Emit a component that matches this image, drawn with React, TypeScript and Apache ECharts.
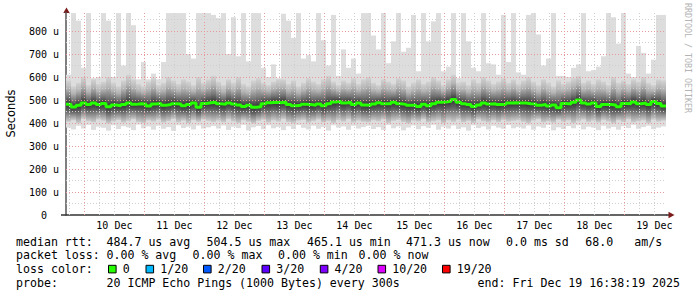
import React, { useEffect, useRef } from 'react';
import * as echarts from 'echarts';

// time axis: hours since 9 Dec 00:00
const START_H = 16 + 38 / 60 + 19 / 3600;
const STEP_H = 2;
const END_H = START_H + 240;

const DAY_LABELS = ['10 Dec', '11 Dec', '12 Dec', '13 Dec', '14 Dec', '15 Dec', '16 Dec', '17 Dec', '18 Dec', '19 Dec'];
const DAY_LABEL_HOURS = [36, 60, 84, 108, 132, 156, 180, 204, 228, 252];
const Y_TICKS = [0, 100, 200, 300, 400, 500, 600, 700, 800];
const Y_MAX = 880;

// median rtt (us), one value per 2h
const MEDIAN = [
  482, 470, 477, 487, 480, 487, 480, 485, 471, 478, 475, 480, 487, 481, 484, 483, 474, 483, 485, 477, 480, 484, 483, 475, 480, 487, 468, 485, 488, 490,
  484, 481, 487, 483, 478, 472, 477, 468, 471, 484, 488, 490, 488, 491, 480, 475, 477, 481, 480, 477, 483, 475, 484, 491, 494, 487, 490, 480, 487, 478,
  477, 483, 488, 484, 484, 490, 484, 481, 477, 477, 472, 481, 475, 484, 490, 491, 494, 502, 490, 484, 480, 472, 478, 487, 483, 484, 480, 481, 487, 488,
  487, 487, 484, 483, 477, 480, 474, 478, 466, 485, 483, 490, 500, 487, 483, 487, 472, 480, 480, 478, 471, 485, 484, 491, 484, 487, 480, 493, 485, 474,
];
// slowest ping (top of smoke)
const MAX_RTT = [
  610, 878, 845, 640, 878, 595, 600, 878, 845, 600, 878, 650, 878, 825, 590, 665, 590, 615, 590, 665, 878, 878, 878, 878, 700, 680, 878, 878, 878, 870,
  856, 878, 700, 860, 690, 878, 668, 878, 878, 640, 600, 655, 595, 875, 845, 770, 878, 680, 695, 668, 878, 760, 650, 870, 605, 720, 640, 680, 615, 878,
  878, 780, 720, 878, 660, 755, 878, 710, 727, 870, 625, 878, 755, 842, 878, 625, 645, 878, 595, 878, 755, 640, 625, 878, 660, 655, 610, 870, 665, 878,
  620, 610, 870, 878, 785, 650, 680, 878, 605, 605, 600, 640, 655, 878, 625, 630, 645, 690, 878, 860, 745, 878, 615, 600, 735, 705, 615, 675, 870, 870,
];
// upper edge of the dense smoke
const HIGH = [
  585, 560, 575, 600, 565, 590, 570, 580, 600, 575, 560, 585, 610, 590, 570, 560, 580, 595, 565, 575, 600, 585, 570, 590, 580, 565, 600, 575, 590, 605,
  580, 565, 590, 575, 600, 570, 560, 585, 595, 575, 565, 580, 590, 590, 570, 585, 560, 575, 595, 580, 570, 590, 605, 580, 565, 585, 575, 595, 570, 590,
  600, 575, 565, 590, 580, 570, 595, 585, 560, 575, 590, 570, 580, 600, 585, 565, 590, 610, 575, 580, 565, 590, 575, 600, 585, 570, 580, 595, 575, 590,
  570, 585, 600, 580, 565, 590, 575, 560, 585, 570, 580, 595, 605, 575, 585, 570, 590, 580, 565, 600, 575, 585, 570, 590, 580, 600, 575, 565, 590, 585,
];
// lower edge of the dense smoke
const LOW = [
  405, 412, 400, 418, 408, 403, 415, 410, 398, 407, 413, 402, 409, 416, 404, 400, 411, 406, 414, 402, 408, 417, 403, 410, 399, 412, 405, 415, 409, 404,
  410, 403, 416, 407, 400, 412, 405, 398, 409, 414, 402, 411, 406, 417, 404, 399, 410, 413, 401, 408, 415, 403, 409, 400, 412, 406, 416, 402, 410, 405,
  403, 411, 407, 415, 400, 409, 413, 404, 398, 410, 406, 416, 402, 408, 412, 399, 411, 405, 414, 403, 409, 400, 415, 407, 402, 411, 404, 413, 406, 409,
  412, 405, 399, 410, 416, 403, 408, 401, 414, 406, 411, 400, 409, 415, 404, 410, 402, 413, 407, 399, 412, 405, 416, 403, 408, 411, 400, 414, 406, 410,
];
// fastest ping (bottom of smoke)
const MIN_RTT = [
  380, 372, 388, 376, 392, 370, 384, 379, 367, 390, 374, 386, 381, 369, 393, 377, 385, 371, 388, 375, 382, 366, 390, 378, 384, 372, 389, 376, 381, 387,
  376, 389, 370, 384, 378, 392, 368, 381, 387, 373, 390, 377, 383, 369, 386, 374, 391, 379, 372, 388, 375, 383, 367, 390, 380, 385, 371, 388, 376, 382,
  388, 374, 382, 370, 391, 377, 385, 368, 380, 389, 373, 386, 379, 392, 371, 384, 376, 389, 374, 381, 367, 390, 378, 385, 372, 388, 380, 375, 391, 377,
  383, 376, 389, 371, 385, 379, 392, 368, 381, 374, 387, 377, 390, 372, 384, 380, 369, 388, 376, 383, 371, 386, 378, 392, 375, 382, 388, 373, 380, 385,
];

const LOSS_LABELS = ['0', '1/20', '2/20', '3/20', '4/20', '10/20', '19/20'];
const LOSS_COLORS = ['#26ff00', '#00b8ff', '#0059ff', '#5e00ff', '#7e00ff', '#dd00ff', '#ff0000'];

const MONO = '"DejaVu Sans Mono", monospace';
const LEG_FS = 11.6;

export default function App() {
  const ref = useRef<HTMLDivElement>(null);
  useEffect(() => {
    if (!ref.current) return;
    const chart = echarts.init(ref.current, null, { renderer: 'svg' });

    const smoke = MEDIAN.map((m, i) => [
      START_H + i * STEP_H,
      START_H + (i + 1) * STEP_H,
      MIN_RTT[i],
      LOW[i],
      m,
      HIGH[i],
      MAX_RTT[i],
    ]);
    const medianLine = MEDIAN.map((m, i) => [START_H + i * STEP_H, m]);
    medianLine.push([END_H, MEDIAN[MEDIAN.length - 1]]);

    const MIN_C = '#cfcfcf';
    const MAJ_C = '#e89a9a';
    const gridLines: any[] = [];
    for (let h = Math.ceil(START_H / 6) * 6; h < END_H; h += 6) {
      gridLines.push({ xAxis: h, lineStyle: { color: h % 24 === 0 ? MAJ_C : MIN_C, type: [1, 2], width: 1 } });
    }
    for (let v = 50; v < Y_MAX; v += 50) {
      gridLines.push({ yAxis: v, lineStyle: { color: v % 100 === 0 ? MAJ_C : MIN_C, type: [1, 2], width: 1 } });
    }

    const upGrad = new echarts.graphic.LinearGradient(0, 0, 0, 1, [
      { offset: 0, color: '#d3d3d3' },
      { offset: 0.35, color: '#b4b4b4' },
      { offset: 0.7, color: '#747474' },
      { offset: 1, color: '#333333' },
    ]);
    const lowGrad = new echarts.graphic.LinearGradient(0, 0, 0, 1, [
      { offset: 0, color: '#333333' },
      { offset: 0.35, color: '#606060' },
      { offset: 0.7, color: '#9c9c9c' },
      { offset: 1, color: '#cdcdcd' },
    ]);

    const textEl = (text: string, x: number, y: number) => ({
      type: 'text',
      x,
      y,
      silent: true,
      style: { text, fontFamily: MONO, fontSize: LEG_FS, fill: '#000', align: 'left', verticalAlign: 'middle' },
    });

    const squareX = [108.5, 146, 203.5, 262, 320.3, 378, 442.5];
    const graphics: any[] = [
      textEl('median rtt:', 16, 241.5),
      textEl('484.7 us avg', 106.5, 241.5),
      textEl('504.5 us max', 206.5, 241.5),
      textEl('465.1 us min', 307, 241.5),
      textEl('471.3 us now', 406, 241.5),
      textEl('0.0 ms sd', 506, 241.5),
      textEl('68.0', 585.3, 241.5),
      textEl('am/s', 634.3, 241.5),
      textEl('packet loss:', 16, 255.2),
      textEl('0.00 % avg', 106.5, 255.2),
      textEl('0.00 % max', 192.6, 255.2),
      textEl('0.00 % min', 278, 255.2),
      textEl('0.00 % now', 358.6, 255.2),
      textEl('loss color:', 16, 268.9),
      textEl('probe:', 16, 282.6),
      textEl('20 ICMP Echo Pings (1000 Bytes) every 300s', 106.5, 282.6),
      textEl('end: Fri Dec 19 16:38:19 2025', 477.6, 282.6),
      {
        type: 'text', x: 10.5, y: 113.5, rotation: Math.PI / 2, silent: true,
        style: { text: 'Seconds', fontFamily: '"DejaVu Sans", sans-serif', fontSize: 11.4, fill: '#000', align: 'center', verticalAlign: 'middle' },
      },
      {
        type: 'text', x: 688, y: 58, rotation: -Math.PI / 2, silent: true,
        style: { text: 'RRDTOOL / TOBI OETIKER', fontFamily: MONO, fontSize: 8.3, fill: '#b4b4b4', align: 'center', verticalAlign: 'middle' },
      },
      { type: 'line', silent: true, shape: { x1: 61, y1: 215, x2: 66, y2: 215 }, style: { stroke: '#333', lineWidth: 1.5 } },
      { type: 'line', silent: true, shape: { x1: 666, y1: 215, x2: 669, y2: 215 }, style: { stroke: '#333', lineWidth: 1.5 } },
      { type: 'polygon', silent: true, shape: { points: [[63.3, 13], [69.7, 13], [66.5, 7.5]] }, style: { fill: '#7a1a1a' } },
      { type: 'polygon', silent: true, shape: { points: [[668.5, 211.8], [668.5, 218.2], [674.5, 215]] }, style: { fill: '#7a1a1a' } },
    ];
    LOSS_LABELS.forEach((lab, i) => {
      graphics.push({
        type: 'rect', silent: true,
        shape: { x: squareX[i], y: 265.3, width: 7.6, height: 7.6 },
        style: { fill: LOSS_COLORS[i], stroke: '#000', lineWidth: 1 },
      });
      graphics.push(textEl(lab, squareX[i] + 14.2, 268.9));
    });

    chart.setOption({
      animation: false,
      backgroundColor: '#ffffff',
      grid: { left: 66, right: 31, top: 215 - Y_MAX * 0.23, bottom: 82, containLabel: false },
      xAxis: {
        type: 'value',
        min: START_H,
        max: END_H,
        axisLine: { show: true, onZero: false, lineStyle: { color: '#333', width: 1.5 } },
        axisTick: { show: false },
        splitLine: { show: false },
        axisLabel: {
          customValues: DAY_LABEL_HOURS,
          formatter: (v: number) => {
            const k = DAY_LABEL_HOURS.indexOf(Math.round(v));
            return k >= 0 ? DAY_LABELS[k] : '';
          },
          fontFamily: MONO,
          fontSize: 10,
          color: '#000',
          margin: 5,
        },
      },
      yAxis: {
        type: 'value',
        min: 0,
        max: Y_MAX,
        axisLine: { show: true, lineStyle: { color: '#555', width: 1.5 } },
        axisTick: { show: false },
        splitLine: { show: false },
        axisLabel: {
          customValues: Y_TICKS,
          formatter: (v: number) => (v === 0 ? '0\u00a0\u00a0' : v + ' u'),
          fontFamily: MONO,
          fontSize: 10,
          color: '#000',
          margin: 7,
        },
      },
      series: [
        {
          type: 'custom',
          z: 2,
          silent: true,
          data: smoke,
          encode: { x: [0, 1], y: [2, 3, 4, 5, 6] },
          renderItem: (params: any, api: any) => {
            const x0 = api.value(0), x1 = api.value(1);
            const lo = api.value(2), pl = api.value(3), md = api.value(4), ph = api.value(5), hi = api.value(6);
            const a = api.coord([x0, hi]);
            const b = api.coord([x1, lo]);
            const yPh = api.coord([x0, ph])[1];
            const yMd = api.coord([x0, md])[1];
            const yPl = api.coord([x0, pl])[1];
            const w = b[0] - a[0];
            return {
              type: 'group',
              children: [
                { type: 'rect', shape: { x: a[0], y: a[1], width: w, height: b[1] - a[1] }, style: { fill: '#dddddd' } },
                { type: 'rect', shape: { x: a[0], y: yPh, width: w, height: yMd - yPh }, style: { fill: upGrad } },
                { type: 'rect', shape: { x: a[0], y: yMd, width: w, height: yPl - yMd }, style: { fill: lowGrad } },
              ],
            };
          },
        },
        {
          type: 'line',
          z: 3,
          silent: true,
          data: [],
          markLine: {
            silent: true,
            symbol: ['none', 'none'],
            label: { show: false },
            animation: false,
            data: gridLines,
          },
        },
        {
          type: 'line',
          z: 4,
          silent: true,
          step: 'end',
          symbol: 'none',
          data: medianLine,
          lineStyle: { color: '#26ff00', width: 3 },
        },
      ],
      graphic: graphics,
    });
    return () => chart.dispose();
  }, []);
  return (
    <div
      ref={ref}
      style={{ position: 'absolute', left: 0, top: 0, width: 697, height: 297, background: '#fff' }}
    />
  );
}
